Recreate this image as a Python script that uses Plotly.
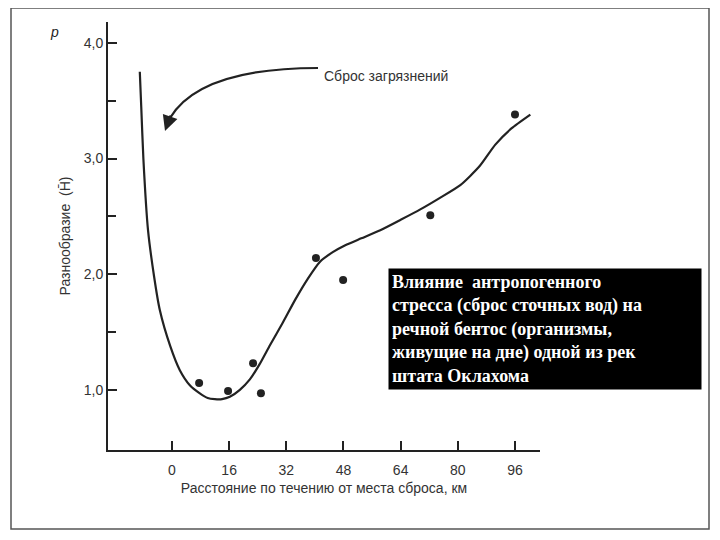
import plotly.graph_objects as go

# fitted curve
curve_x = [-9.0, -8.6, -8.0, -6.7, -5.0, -3.4, -0.5, 2.2, 5.0, 7.8, 10.0, 12.0, 14.0, 16.2, 19.0, 21.8, 24.5, 27.5, 31.0, 34.5, 38.0, 41.5, 45.0, 48.5, 53.0, 58.3, 64.0, 69.5, 75.0, 80.7, 86.0, 90.5, 95.0, 100.3]
curve_y = [3.75, 3.45, 3.0, 2.38, 1.98, 1.69, 1.38, 1.17, 1.04, 0.97, 0.93, 0.92, 0.92, 0.94, 1.0, 1.09, 1.22, 1.39, 1.58, 1.78, 1.96, 2.11, 2.19, 2.25, 2.31, 2.38, 2.47, 2.56, 2.66, 2.77, 2.93, 3.12, 3.26, 3.38]

# observed points
pts_x = [7.6, 15.7, 22.7, 24.9, 40.3, 47.9, 72.3, 96.0]
pts_y = [1.06, 0.99, 1.23, 0.97, 2.14, 1.95, 2.51, 3.38]

x_ticks = [0, 16, 32, 48, 64, 80, 96]
y_ticks = [1.0, 2.0, 3.0, 4.0]
y_labels = ["1,0", "2,0", "3,0", "4,0"]

ink = "#222222"
fig = go.Figure()
fig.add_trace(go.Scatter(x=curve_x, y=curve_y, mode="lines", line=dict(color=ink, width=2.2, shape="spline", smoothing=0.6), hoverinfo="skip"))
fig.add_trace(go.Scatter(x=pts_x, y=pts_y, mode="markers", marker=dict(color=ink, size=8)))

# pixel helpers for paper coords (plot area 108..540 x, 22..450 y in the reference)
def px(x):
    return (x - 108) / 432

def py(y):
    return (450 - y) / 428

arrow_path = "M {},{} Q {},{} {},{}".format(px(318), py(68), px(200), py(68), px(170), py(118))

fig.update_layout(
    width=720, height=540, showlegend=False,
    paper_bgcolor="white", plot_bgcolor="white",
    margin=dict(l=100, r=188, t=14, b=98),
    font=dict(family="Liberation Sans, Arial", color="#333333", size=14),
    xaxis=dict(range=[-17.9, 103], tickvals=x_ticks, ticks="inside", ticklen=9, tickwidth=1.5,
               tickcolor=ink, showline=True, linecolor=ink, linewidth=2, showgrid=False,
               zeroline=False, ticklabelstandoff=6,
               title=dict(text="Расстояние по течению от места сброса, км", font=dict(size=14), standoff=6)),
    yaxis=dict(range=[0.48, 4.18], tickvals=y_ticks, ticktext=y_labels, ticks="inside", ticklen=9,
               tickwidth=1.5, tickcolor=ink, showline=True, linecolor=ink, linewidth=2, showgrid=False,
               zeroline=False, minor=dict(tickvals=[1.5, 2.5, 3.5], ticks="inside", ticklen=8, tickcolor=ink),
               title=dict(text="Разнообразие  (H̄)", font=dict(size=14), standoff=10)),
    shapes=[
        dict(type="rect", xref="paper", yref="paper", x0=px(11), x1=px(709), y0=py(529), y1=py(8),
             line=dict(color="#555555", width=1.5), layer="below"),
        dict(type="path", xref="paper", yref="paper", path=arrow_path, line=dict(color=ink, width=2.2)),
    ],
)

fig.add_annotation(x=px(165), y=py(131), ax=6, ay=-17, xref="paper", yref="paper", text="",
                   showarrow=True, arrowhead=2, arrowsize=1.4, arrowwidth=2.2, arrowcolor=ink)
fig.add_annotation(x=px(322), y=py(66), xref="paper", yref="paper", text="Сброс загрязнений",
                   showarrow=False, xanchor="left", font=dict(size=14, color="#333333"))
fig.add_annotation(x=px(48), y=py(22), xref="paper", yref="paper", text="<i>p</i>", showarrow=False,
                   font=dict(size=14, color=ink))
fig.add_annotation(
    x=px(388), y=py(268), xref="paper", yref="paper", xanchor="left", yanchor="top", align="left",
    text="<b>Влияние  антропогенного<br>стресса (сброс сточных вод) на<br>речной бентос (организмы,<br>живущие на дне) одной из рек<br>штата Оклахома</b>",
    showarrow=False, bgcolor="black", borderpad=3, width=306,
    font=dict(family="Liberation Serif, DejaVu Serif", size=18, color="white"),
)

fig.write_html("out.html")
